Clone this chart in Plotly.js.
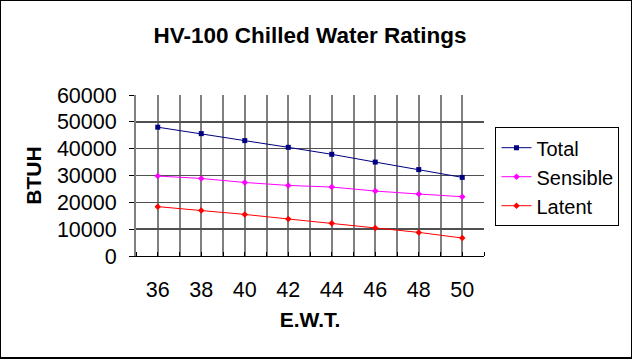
<!DOCTYPE html>
<html>
<head>
<meta charset="utf-8">
<script src="https://cdn.plot.ly/plotly-3.0.1.min.js"></script>
<style>
html,body{margin:0;padding:0;background:#fff;}
#wrap{width:632px;height:359px;box-sizing:border-box;border:1px solid #000;border-bottom-width:2px;overflow:hidden;}
#chart{width:630px;height:356px;}
</style>
</head>
<body>
<div id="wrap"><div id="chart"></div></div>
<script>
const ewt = [36, 38, 40, 42, 44, 46, 48, 50];
const total = [48000, 45600, 43000, 40500, 37900, 35000, 32200, 29300];
const sensible = [29800, 28900, 27400, 26300, 25700, 24200, 23100, 22100];
const latent = [18400, 17000, 15500, 13800, 12200, 10400, 8800, 6700];
const xTicks = [36, 38, 40, 42, 44, 46, 48, 50];
const xBounds = [35, 37, 39, 41, 43, 45, 47, 49, 51];
const yTicks = [0, 10000, 20000, 30000, 40000, 50000, 60000];

const FONT = 'Liberation Sans, Arial, sans-serif';

const traces = [
  {x: ewt, y: total, name: 'Total', type: 'scatter', mode: 'lines+markers',
   line: {color: '#000080', width: 1}, marker: {symbol: 'square', size: 5, color: '#000080'}},
  {x: ewt, y: sensible, name: 'Sensible', type: 'scatter', mode: 'lines+markers',
   line: {color: '#FF00FF', width: 1}, marker: {symbol: 'diamond', size: 5, color: '#FF00FF'}},
  {x: ewt, y: latent, name: 'Latent', type: 'scatter', mode: 'lines+markers',
   line: {color: '#FF0000', width: 1}, marker: {symbol: 'diamond', size: 5, color: '#FF0000'}}
];

const layout = {
  width: 630, height: 356,
  margin: {l: 135, r: 141, t: 94, b: 101, pad: 0},
  paper_bgcolor: '#fff', plot_bgcolor: '#fff',
  font: {family: FONT, size: 20, color: '#000'},
  title: {text: '<b>HV-100 Chilled Water Ratings</b>', font: {family: FONT, size: 22.5, color: '#000'},
          x: 0.5, xanchor: 'center', xref: 'paper', y: 1 - 34/356, yanchor: 'middle', yref: 'container'},
  showlegend: true,
  legend: {x: 1.033, xanchor: 'left', y: 0.80, yanchor: 'top', bgcolor: '#fff',
           bordercolor: '#000', borderwidth: 1, font: {family: FONT, size: 20, color: '#000'},
           itemwidth: 30, tracegroupgap: 0},
  xaxis: {
    range: [35, 51], tickmode: 'array', tickvals: xTicks, ticktext: xTicks.map(String),
    ticks: '', showgrid: true, gridcolor: '#808080', gridwidth: 2, zeroline: false,
    showline: true, linecolor: '#000', linewidth: 1, ticklabelstandoff: 14,
    minor: {dtick: 1, tick0: 35, showgrid: true, gridcolor: '#808080', gridwidth: 2,
            ticks: 'inside', ticklen: 4, tickcolor: '#000'},
    title: {text: '<b>E.W.T.</b>', font: {family: FONT, size: 21, color: '#000'}, standoff: 11},
    tickfont: {family: FONT, size: 21.5, color: '#000'}, fixedrange: true
  },
  xaxis2: {
    range: [35, 51], overlaying: 'x', anchor: 'y', side: 'bottom', tickmode: 'array', tickvals: xBounds,
    showticklabels: false, ticks: 'outside', ticklen: 5, tickcolor: '#000', showgrid: false,
    zeroline: false, showline: false, fixedrange: true
  },
  yaxis: {
    range: [0, 60000], tickmode: 'array', tickvals: yTicks, ticktext: yTicks.map(String),
    ticks: 'outside', ticklen: 5, tickcolor: '#000', showgrid: true, gridcolor: '#505050', gridwidth: 1.5,
    zeroline: false, showline: true, linecolor: '#808080', linewidth: 2, ticklabelstandoff: 8,
    title: {text: '<b>BTUH</b>', font: {family: FONT, size: 21, color: '#000'}, standoff: 10},
    tickfont: {family: FONT, size: 21.5, color: '#000'}, fixedrange: true
  }
};

Plotly.newPlot('chart', traces, layout, {displayModeBar: false, staticPlot: true});
</script>
</body>
</html>
